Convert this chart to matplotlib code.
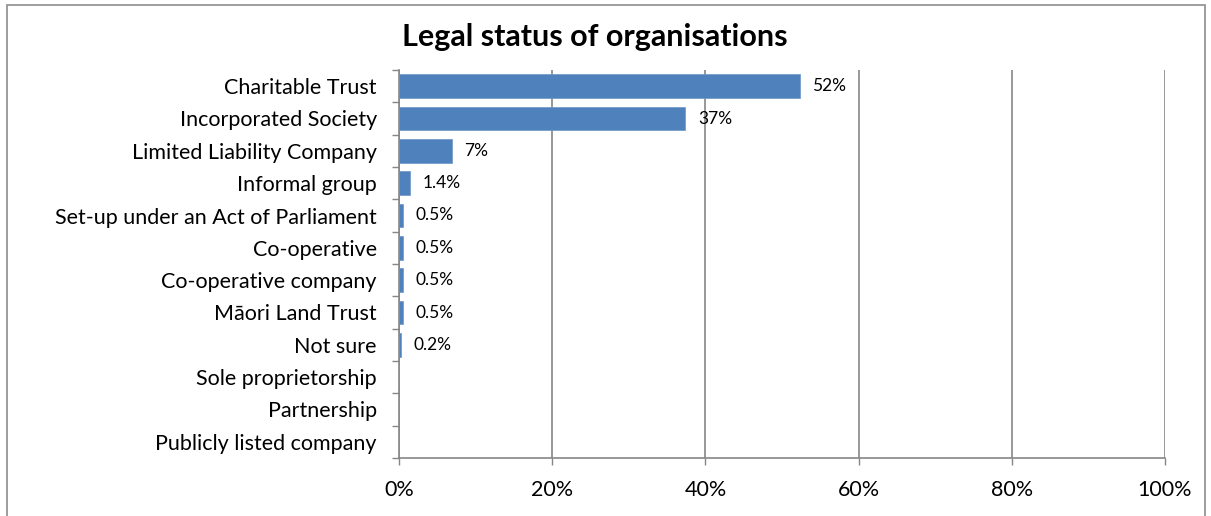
import matplotlib.pyplot as plt
from matplotlib.patches import Rectangle

# ==========================================================
# Data
# ==========================================================

categories = [
    "Charitable Trust",
    "Incorporated Society",
    "Limited Liability Company",
    "Informal group",
    "Set-up under an Act of Parliament",
    "Co-operative",
    "Co-operative company",
    "Māori Land Trust",
    "Not sure",
    "Sole proprietorship",
    "Partnership",
    "Publicly listed company",
]

values = [52.3, 37.4, 6.9, 1.4, 0.5, 0.5, 0.5, 0.5, 0.2, 0, 0, 0]

labels = ["52%", "37%", "7%", "1.4%", "0.5%", "0.5%", "0.5%", "0.5%", "0.2%", "", "", ""]

xticks = [0, 20, 40, 60, 80, 100]

# ==========================================================
# Plot
# ==========================================================

plt.rcParams["font.family"] = ["Lato", "DejaVu Sans"]

fig = plt.figure(figsize=(12.11, 5.16), dpi=100)
ax = fig.add_axes([399 / 1211, 1 - 458 / 516, 766 / 1211, 388 / 516])

grey = "#868686"

y = list(range(len(categories)))
ax.barh(y, values, height=0.74, color="#4F81BD", edgecolor="#6f95c8", linewidth=0.5, zorder=3)

for yi, v, lab in zip(y, values, labels):
    if lab:
        ax.annotate(lab, (v, yi), xytext=(9, 0), textcoords="offset points",
                    va="center", ha="left", fontsize=12.5, color="black")

ax.set_ylim(len(categories) - 0.5, -0.5)
ax.set_xlim(0, 100)

ax.set_yticks([i - 0.5 for i in range(len(categories) + 1)], minor=False)
ax.set_yticklabels([])
ax.set_yticks(y, minor=True)
ax.set_yticklabels(categories, minor=True, fontsize=15.5)
ax.tick_params(axis="y", which="minor", length=0, pad=16)
ax.tick_params(axis="y", which="major", length=5, color=grey, width=1)

ax.set_xticks(xticks)
ax.set_xticklabels([f"{t}%" for t in xticks], fontsize=15.5)
ax.tick_params(axis="x", length=5, color=grey, width=1, pad=11)

ax.grid(axis="x", color=grey, linewidth=1.2, zorder=0)

for s in ["top", "right"]:
    ax.spines[s].set_visible(False)
for s in ["left", "bottom"]:
    ax.spines[s].set_color(grey)
    ax.spines[s].set_linewidth(1.2)

fig.text(595 / 1211, 1 - 37 / 516, "Legal status of organisations",
         ha="center", va="center", fontsize=22, fontweight="bold")

# chart border
fig.patches.append(Rectangle((7 / 1211, -0.05), 1198 / 1211, 1.05 - 5 / 516,
                             transform=fig.transFigure, fill=False,
                             edgecolor="#8c8c8c", linewidth=1.2))

fig.savefig("out.png", dpi=100)
